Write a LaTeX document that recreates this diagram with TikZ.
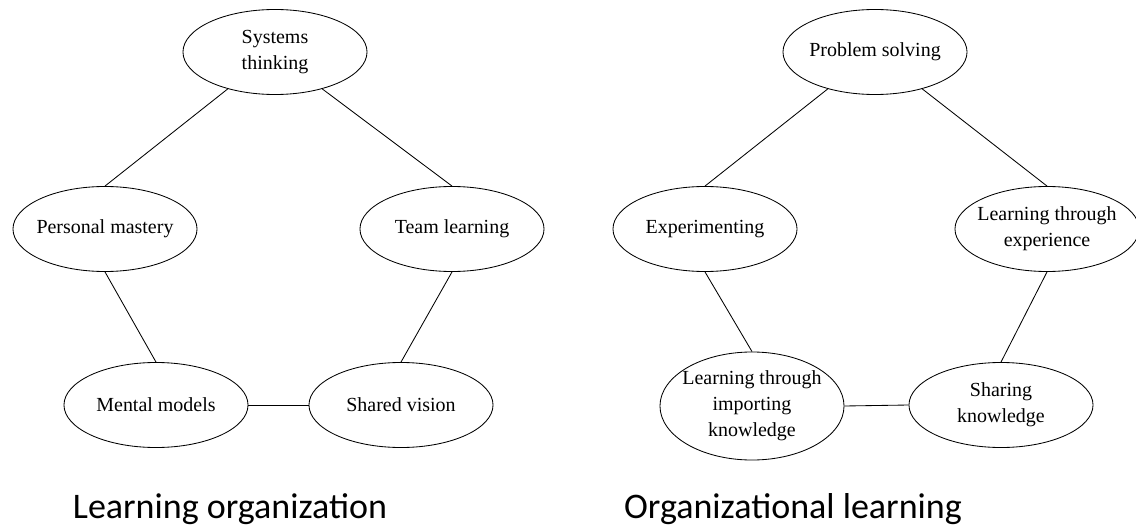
\documentclass[tikz,border=0pt]{standalone}
\usepackage{fontspec}
\setmainfont{Liberation Serif}
\newfontfamily\capfont{Carlito}
\usetikzlibrary{shapes.geometric}

\begin{document}
\begin{tikzpicture}[x=0.025cm, y=-0.025cm,
	every node/.style={font=\fontsize{14.2}{18.5}\selectfont},
	bubble/.style={draw, ellipse, line width=0.6pt, minimum width=4.6cm, minimum height=2.125cm, inner xsep=-8pt, inner ysep=0pt, align=center},
	caption/.style={font=\capfont\fontsize{25.6}{30}\selectfont, anchor=base},
	link/.style={line width=0.6pt}]
	\useasboundingbox (0,0) rectangle (1136,531);
	% learning organization
	\node[bubble] (st) at (275,52) {Systems\\thinking};
	\node[bubble] (pm) at (105,229) {Personal mastery};
	\node[bubble] (tl) at (452,229) {Team learning};
	\node[bubble] (mm) at (156,405) {Mental models};
	\node[bubble] (sv) at (401,405) {Shared vision};
	\draw[link] (st.-142) -- (pm.north);
	\draw[link] (st.-38) -- (tl.north);
	\draw[link] (pm.south) -- (mm.north);
	\draw[link] (tl.south) -- (sv.north);
	\draw[link] (mm.east) -- (sv.west);
	\node[caption] (capL) at (230,518) {Learning organization};
	% organizational learning
	\node[bubble] (ps) at (875,52) {Problem solving};
	\node[bubble] (ex) at (705,229) {Experimenting};
	\node[bubble] (lte) at (1047,229) {Learning through\\experience};
	\node[bubble, minimum height=2.7cm] (lti) at (752,406) {Learning through\\importing\\knowledge};
	\node[bubble] (sk) at (1001,405) {Sharing\\knowledge};
	\draw[link] (ps.-142) -- (ex.north);
	\draw[link] (ps.-38) -- (lte.north);
	\draw[link] (ex.south) -- (lti.north);
	\draw[link] (lte.south) -- (sk.north);
	\draw[link] (lti.east) -- (sk.west);
	\node[caption] (capR) at (793,518) {Organizational learning};
\end{tikzpicture}
\end{document}
